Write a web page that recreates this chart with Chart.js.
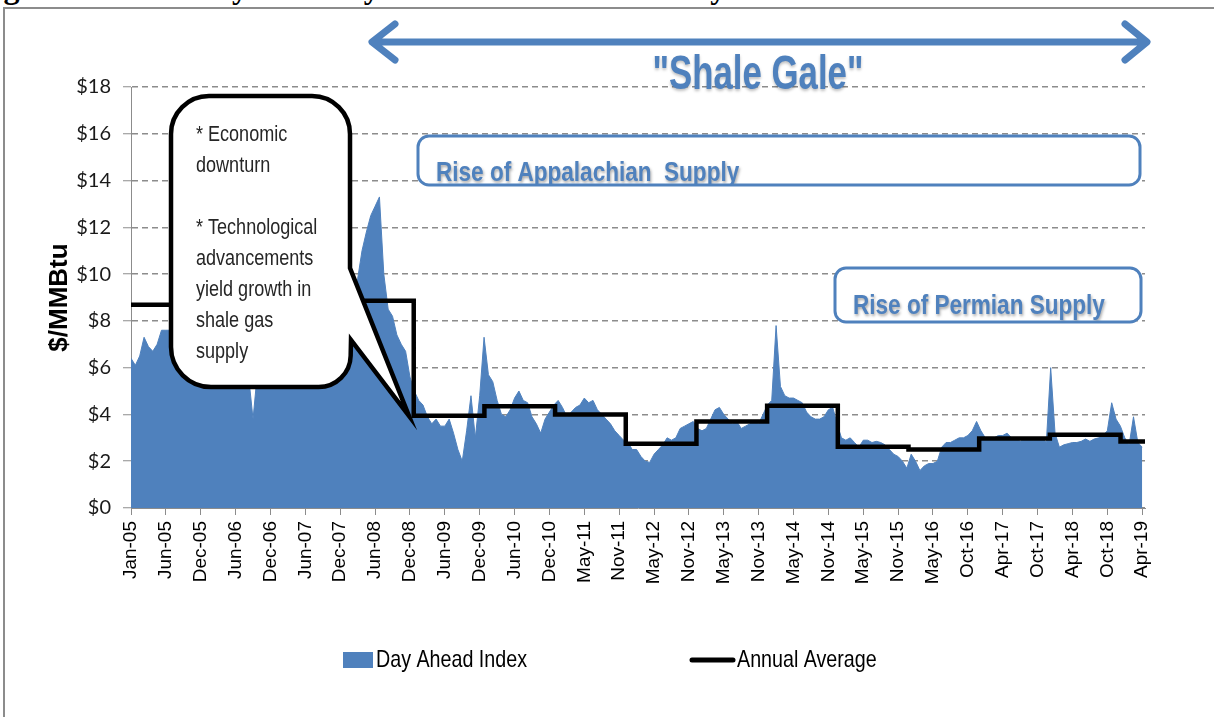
<!DOCTYPE html>
<html lang="en">
<head>
<meta charset="UTF-8">
<title>Henry Hub Day Ahead Gas Price History</title>
<style>
  body { margin: 0; background: #fff; width: 1214px; height: 717px; overflow: hidden; position: relative; }
  .caption { position: absolute; top: -29px; font: bold 32px 'Liberation Serif', serif; line-height: 32px; white-space: nowrap; color: #000; }
  .frame { position: absolute; left: 3px; top: 7px; width: 1400px; height: 900px; border-left: 2px solid #8c8c8c; border-top: 2px solid #8c8c8c; }
  #chart { position: absolute; left: 0; top: 0; }
</style>
</head>
<body>
<div class="caption" style="left:-25px">Figure 3:</div>
<div class="caption" style="left:161px">Henry Hub Day Ahead Gas Price History</div>
<div class="frame"></div>
<canvas id="chart" width="1214" height="717"></canvas>

<script src="https://cdn.jsdelivr.net/npm/chart.js"></script>
<script>
// tick labels, one every ~125 trading days
const tickLabels = ['Jan-05','Jun-05','Dec-05','Jun-06','Dec-06','Jun-07','Dec-07','Jun-08','Dec-08','Jun-09',
  'Dec-09','Jun-10','Dec-10','May-11','Nov-11','May-12','Nov-12','May-13','Nov-13','May-14',
  'Nov-14','May-15','Nov-15','May-16','Oct-16','Apr-17','Oct-17','Apr-18','Oct-18','Apr-19'];

// day ahead index ($/MMBtu), 8 readings per tick interval
const pointsPerTick = 8;
const dayAhead = [
  6.4, 6.1, 6.5, 7.3, 6.9, 6.7, 7.0, 7.6,
  7.6, 7.6, 9.0, 11.5, 13.5, 13.8, 10.5, 12.5,
  14.5, 9.5, 8.5, 7.6, 7.0, 7.2, 6.8, 6.3,
  6.2, 6.0, 6.4, 5.6, 3.8, 5.8, 7.5, 7.8,
  6.8, 6.4, 7.5, 8.0, 7.2, 7.5, 7.7, 7.8,
  7.4, 6.5, 6.2, 6.3, 5.9, 6.6, 7.0, 7.2,
  7.2, 7.9, 8.3, 9.0, 9.8, 11.0, 11.8, 12.5,
  12.9, 13.3, 10.0, 8.5, 8.2, 7.4, 7.0, 6.7,
  5.6, 5.0, 4.6, 4.4, 3.9, 3.6, 3.8, 3.5,
  3.5, 3.8, 3.2, 2.5, 2.0, 3.3, 4.8, 3.0,
  4.8, 7.3, 5.7, 5.4, 4.6, 4.0, 3.9, 4.2,
  4.7, 5.0, 4.6, 4.5, 3.9, 3.6, 3.2, 3.8,
  4.1, 4.4, 4.6, 4.3, 3.9, 4.1, 4.3, 4.4,
  4.7, 4.5, 4.6, 4.2, 4.0, 3.8, 3.6, 3.3,
  3.1, 2.9, 2.8, 2.5, 2.5, 2.2, 2.0, 1.95,
  2.3, 2.5, 2.7, 3.0, 2.9, 3.0, 3.4, 3.5,
  3.6, 3.7, 3.4, 3.3, 3.4, 3.8, 4.2, 4.3,
  4.0, 3.8, 3.6, 3.7, 3.4, 3.5, 3.6, 3.7,
  3.6, 4.0, 4.4, 4.6, 7.8, 5.2, 4.8, 4.7,
  4.7, 4.6, 4.5, 4.1, 3.9, 3.8, 3.8, 3.9,
  4.2, 4.3, 3.6, 3.0, 2.9, 3.0, 2.8, 2.6,
  2.9, 2.9, 2.8, 2.85, 2.8, 2.7, 2.5, 2.3,
  2.2, 2.0, 1.7, 2.3, 2.0, 1.6, 1.8, 1.9,
  1.9, 2.0, 2.6, 2.8, 2.8, 2.9, 3.0, 3.0,
  3.1, 3.3, 3.7, 3.3, 3.0, 2.9, 3.0, 3.1,
  3.1, 3.2, 3.0, 3.0, 2.85, 2.95, 3.0, 2.9,
  3.0, 3.0, 2.8, 6.0, 3.2, 2.6, 2.7, 2.75,
  2.8, 2.8, 2.85, 2.95, 2.85, 2.95, 3.0, 3.1,
  3.3, 4.5, 3.8, 3.5, 3.0, 2.7, 3.9, 2.8,
  2.6
];

// annual averages
const years = [2005, 2006, 2007, 2008, 2009, 2010, 2011, 2012, 2013, 2014, 2015, 2016, 2017, 2018, 2019];
const annualAvg = [8.69, 6.73, 6.97, 8.86, 3.94, 4.35, 4.00, 2.75, 3.70, 4.37, 2.62, 2.50, 2.97, 3.13, 2.84];

const yTicks = [0, 2, 4, 6, 8, 10, 12, 14, 16, 18];

const calloutLines = ['* Economic', 'downturn', '', '* Technological', 'advancements', 'yield growth in', 'shale gas', 'supply'];

const monthsPerTick = 5.92;
const xMax = 29.08;
const SANS = "'Liberation Sans', Arial, sans-serif";
const BLUE = '#4f81bd';

const areaPoints = dayAhead.map((v, i) => ({ x: i / pointsPerTick, y: v }));
const avgPoints = years.map((yr, k) => ({ x: (yr - 2005) * 12 / monthsPerTick, y: annualAvg[k] }));
avgPoints.push({ x: xMax, y: annualAvg[annualAvg.length - 1] });

// condensed text: Liberation Sans squeezed horizontally
function narrowText(ctx, text, x, y, font, sx) {
  ctx.save();
  ctx.translate(x, y);
  ctx.scale(sx, 1);
  ctx.font = font;
  ctx.fillText(text, 0, 0);
  ctx.restore();
}

function roundBox(ctx, x, y, w, h, r) {
  ctx.beginPath();
  ctx.moveTo(x + r, y);
  ctx.arcTo(x + w, y, x + w, y + h, r);
  ctx.arcTo(x + w, y + h, x, y + h, r);
  ctx.arcTo(x, y + h, x, y, r);
  ctx.arcTo(x, y, x + w, y, r);
  ctx.closePath();
}

function labelBox(ctx, x, y, w, h, text, tx, ty) {
  ctx.save();
  roundBox(ctx, x, y, w, h, 11);
  ctx.fillStyle = '#fff';
  ctx.fill();
  ctx.save();
  ctx.clip();
  ctx.fillStyle = BLUE;
  ctx.shadowColor = 'rgba(0,0,0,0.35)';
  ctx.shadowBlur = 3;
  ctx.shadowOffsetX = 1;
  ctx.shadowOffsetY = 2;
  ctx.textBaseline = 'alphabetic';
  narrowText(ctx, text, tx, ty, 'bold 27.5px ' + SANS, 0.82);
  ctx.restore();
  roundBox(ctx, x, y, w, h, 11);
  ctx.lineWidth = 3;
  ctx.strokeStyle = BLUE;
  ctx.stroke();
  ctx.restore();
}

const overlay = {
  id: 'overlay',
  afterDraw(chart) {
    const ctx = chart.ctx;
    const xs = chart.scales.x, ys = chart.scales.y;
    ctx.save();

    // "Shale Gale" double arrow
    ctx.strokeStyle = BLUE;
    ctx.lineWidth = 7;
    ctx.lineCap = 'round';
    ctx.lineJoin = 'round';
    ctx.beginPath();
    ctx.moveTo(374, 42); ctx.lineTo(1144, 42);
    ctx.moveTo(395, 24); ctx.lineTo(372, 42); ctx.lineTo(395, 60);
    ctx.moveTo(1125, 24); ctx.lineTo(1147, 42); ctx.lineTo(1125, 60);
    ctx.stroke();

    ctx.save();
    ctx.fillStyle = BLUE;
    ctx.textAlign = 'center';
    ctx.shadowColor = 'rgba(0,0,0,0.25)';
    ctx.shadowBlur = 3;
    ctx.shadowOffsetY = 2;
    narrowText(ctx, '"Shale Gale"', 758, 89, 'bold 49px ' + SANS, 0.71);
    ctx.restore();

    labelBox(ctx, 418, 136, 722, 49, 'Rise of Appalachian  Supply', 436, 181);
    labelBox(ctx, 835, 268, 306, 54, 'Rise of Permian Supply', 853, 314);

    // callout bubble pointing at the 2009 drop
    const tipX = xs.getPixelForValue(8) - 1;
    const tipY = ys.getPixelForValue(annualAvg[4]);
    const L = 171, T = 96, R = 350, B = 387;
    ctx.beginPath();
    ctx.moveTo(L + 38, T);
    ctx.arcTo(R, T, R, T + 38, 38);
    ctx.lineTo(R, 268);
    ctx.lineTo(tipX, tipY);
    ctx.lineTo(R + 1, 340);
    ctx.arcTo(R, B, R - 32, B, 32);
    ctx.arcTo(L, B, L, B - 40, 40);
    ctx.arcTo(L, T, L + 38, T, 38);
    ctx.closePath();
    ctx.fillStyle = '#fff';
    ctx.fill();
    ctx.lineWidth = 4.5;
    ctx.lineJoin = 'miter';
    ctx.miterLimit = 12;
    ctx.strokeStyle = '#000';
    ctx.stroke();

    ctx.fillStyle = '#262626';
    ctx.textBaseline = 'middle';
    ctx.textAlign = 'left';
    calloutLines.forEach((line, i) => narrowText(ctx, line, 196, 135 + i * 31, '22px ' + SANS, 0.82));

    // legend
    const ly = 660;
    ctx.fillStyle = BLUE;
    ctx.fillRect(343, ly - 8, 30, 16);
    ctx.strokeStyle = '#000';
    ctx.lineWidth = 5;
    ctx.lineCap = 'round';
    ctx.beginPath();
    ctx.moveTo(692, ly); ctx.lineTo(733, ly);
    ctx.stroke();
    ctx.fillStyle = '#000';
    narrowText(ctx, 'Day Ahead Index', 376, ly, '24px ' + SANS, 0.82);
    narrowText(ctx, 'Annual Average', 737, ly, '24px ' + SANS, 0.82);

    ctx.restore();
  }
};

new Chart(document.getElementById('chart'), {
  type: 'line',
  data: {
    datasets: [
      {
        label: 'Day Ahead Index',
        data: areaPoints,
        fill: 'origin',
        backgroundColor: BLUE,
        borderColor: BLUE,
        borderWidth: 1,
        pointRadius: 0,
        tension: 0,
        order: 2
      },
      {
        label: 'Annual Average',
        data: avgPoints,
        stepped: 'before',
        fill: false,
        borderColor: '#000',
        borderWidth: 4.5,
        borderJoinStyle: 'miter',
        pointRadius: 0,
        order: 1
      }
    ]
  },
  options: {
    responsive: false,
    animation: false,
    layout: { padding: { left: 44, right: 69, top: 87, bottom: 117 } },
    plugins: { legend: { display: false }, tooltip: { enabled: false } },
    scales: {
      x: {
        type: 'linear',
        min: 0,
        max: xMax,
        afterBuildTicks: s => { s.ticks = tickLabels.map((_, i) => ({ value: i })); },
        afterFit: s => { s.height = 92; },
        ticks: {
          autoSkip: false,
          minRotation: 90,
          maxRotation: 90,
          padding: 6,
          color: '#000',
          font: { family: SANS, size: 19 },
          callback: v => tickLabels[Math.round(v)]
        },
        grid: { drawOnChartArea: false, drawTicks: true, tickLength: 7, color: '#8c8c8c' },
        border: { color: '#8c8c8c', width: 1 }
      },
      y: {
        min: 0,
        max: 18,
        afterBuildTicks: s => { s.ticks = yTicks.map(v => ({ value: v })); },
        afterFit: s => { s.width = 87; },
        ticks: {
          padding: 12,
          color: '#1a1a1a',
          font: { family: 'Lato, sans-serif', size: 20 },
          callback: v => '$' + v
        },
        grid: { color: '#8c8c8c', lineWidth: 1.5, tickLength: 8, tickWidth: 1 },
        border: { color: '#8c8c8c', width: 1, dash: [6, 4] },
        title: {
          display: true,
          text: '$/MMBtu',
          color: '#000',
          padding: { top: 0, bottom: 0 },
          font: { family: SANS, size: 26, weight: 'bold' }
        }
      }
    }
  },
  plugins: [overlay]
});
</script>
</body>
</html>
